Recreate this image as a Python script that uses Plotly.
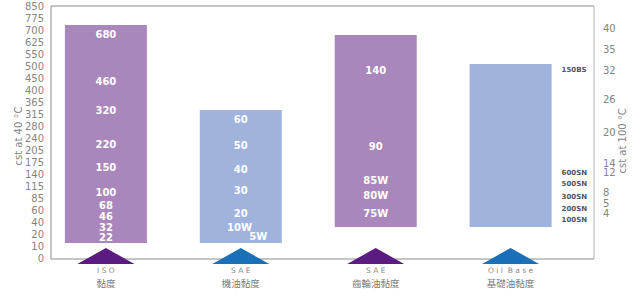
import numpy as np
import plotly.graph_objects as go

# ---------------- data ----------------
# Left axis: cSt at 40 °C (bottom -> top, evenly spaced ticks)
cst40_ticks = [0, 10, 20, 40, 60, 85, 115, 140, 175, 205, 240, 280, 315,
               365, 400, 450, 500, 550, 625, 700, 775, 850]
# Right axis: cSt at 100 °C and the equivalent cSt at 40 °C level
cst100_ticks = [40, 35, 32, 26, 20, 14, 12, 8, 5, 4]
cst100_at40 = [712, 581, 483, 371, 260, 172, 143, 100, 74, 55]

categories = ["ISO", "SAE", "SAE", "Oil Base"]
categories_zh = ["黏度", "機油黏度", "齒輪油黏度", "基礎油黏度"]
bar_low = [12.5, 12.5, 31.7, 31.7]
bar_high = [731, 332, 668, 508]

iso_labels = ["680", "460", "320", "220", "150", "100", "68", "46", "32", "22"]
iso_pos = [668, 433, 327, 217, 157, 97, 68, 47, 30, 16]
sae_engine_labels = ["60", "50", "40", "30", "20", "10W", "5W"]
sae_engine_pos = [297, 214, 149, 102, 53, 30, 17.5]
sae_gear_labels = ["140", "90", "85W", "80W", "75W"]
sae_gear_pos = [479, 211, 125, 90, 53]
base_oil_labels = ["150BS", "600SN", "500SN", "300SN", "200SN", "100SN"]
base_oil_pos = [483, 143, 119, 87.5, 62, 43]

# ---------------- styling ----------------
bar_colors = ["#A987BC", "#A0B3DD", "#A987BC", "#A0B3DD"]
tri_colors = ["#5C1B80", "#1A70B8", "#5C1B80", "#1A70B8"]
W, H = 640, 296
ML, MR = 51, 46
PX = 12.0        # pixels per tick step
ZERO_PX = 258.0  # pixel row of the 0 tick
CAT_PX0, CAT_STEP = 105.9, 134.9
BAR_W = 82 / CAT_STEP
TRI_HALF = 28.5 / CAT_STEP

idx = np.arange(len(cst40_ticks))


def ax(v):
    return np.interp(v, cst40_ticks, idx)


def py(p):  # pixel row -> axis units (layout helper)
    return (ZERO_PX - p) / PX


cat_x = np.arange(len(categories), dtype=float)
xr = [(ML - CAT_PX0) / CAT_STEP, (W - MR - CAT_PX0) / CAT_STEP]
yr = [py(H), py(0)]

fig = go.Figure()

low = ax(bar_low)
high = ax(bar_high)
fig.add_trace(go.Bar(x=cat_x, y=high - low, base=low, width=BAR_W,
                     marker=dict(color=bar_colors, line=dict(width=0)),
                     hoverinfo="skip"))

# triangles
for cx, col in zip(cat_x, tri_colors):
    fig.add_trace(go.Scatter(x=[cx - TRI_HALF, cx, cx + TRI_HALF, cx - TRI_HALF],
                             y=[py(264), py(248), py(264), py(264)],
                             mode="lines", fill="toself", fillcolor=col,
                             line=dict(width=0, color=col), hoverinfo="skip"))

bold_white = dict(family="DejaVu Sans", size=10, color="white")


def add_text(xs, ys, labels, font, pos="middle center", yaxis="y"):
    fig.add_trace(go.Scatter(x=xs, y=ys, text=labels, mode="text",
                             textposition=pos, textfont=font,
                             cliponaxis=False, hoverinfo="skip", yaxis=yaxis))


add_text([cat_x[0]] * len(iso_labels), ax(iso_pos),
         ["<b>%s</b>" % t for t in iso_labels], bold_white)
sae_dx = [0, 0, 0, 0, 0, -0.01, 0.13]
add_text([cat_x[1] + d for d in sae_dx], ax(sae_engine_pos),
         ["<b>%s</b>" % t for t in sae_engine_labels], bold_white)
add_text([cat_x[2]] * len(sae_gear_labels), ax(sae_gear_pos),
         ["<b>%s</b>" % t for t in sae_gear_labels], bold_white)
add_text([cat_x[3] + BAR_W / 2 + 10 / CAT_STEP] * len(base_oil_labels),
         ax(base_oil_pos), ["<b>%s</b>" % t for t in base_oil_labels],
         dict(family="DejaVu Sans", size=7, color="#555555"),
         pos="middle right", yaxis="y2")

# category captions
spaced = [" ".join(list(c)).replace("   ", "  ") for c in categories]
add_text(cat_x, [py(271.5)] * 4, spaced,
         dict(family="DejaVu Sans", size=7.5, color="#8a8a8a"))
add_text(cat_x, [py(284.5)] * 4, categories_zh,
         dict(family="Noto Sans CJK TC", size=9.5, color="#7a7a7a"))

tickfont = dict(family="DejaVu Sans", size=10, color="#858585")
fig.update_layout(
    width=W, height=H, margin=dict(l=ML, r=MR, t=0, b=0),
    plot_bgcolor="white", paper_bgcolor="white", showlegend=False,
    xaxis=dict(range=xr, visible=False, fixedrange=True),
    yaxis=dict(range=yr, tickvals=idx, ticktext=[str(v) for v in cst40_ticks],
               showgrid=False, zeroline=False, showline=False,
               ticks="outside", ticklen=4, tickcolor="rgba(0,0,0,0)",
               tickfont=tickfont),
    yaxis2=dict(range=yr, overlaying="y", side="right",
                tickvals=ax(cst100_at40), ticktext=[str(v) for v in cst100_ticks],
                showgrid=False, zeroline=False, showline=False,
                ticks="outside", ticklen=6, tickcolor="rgba(0,0,0,0)",
                tickfont=tickfont),
    shapes=[
        dict(type="line", xref="paper", yref="y", x0=0, x1=0, y0=py(259), y1=py(6),
             line=dict(color="#8c8c8c", width=1), layer="below"),
        dict(type="line", xref="paper", yref="y", x0=0, x1=1, y0=py(6), y1=py(6),
             line=dict(color="#8c8c8c", width=1), layer="below"),
        dict(type="line", xref="paper", yref="y", x0=1, x1=1, y0=py(259), y1=py(6),
             line=dict(color="#b0b0b0", width=1), layer="below"),
        dict(type="line", xref="paper", yref="y", x0=0, x1=1, y0=py(259), y1=py(259),
             line=dict(color="#8c8c8c", width=1), layer="below"),
    ],
    annotations=[
        dict(text="cst at 40 °C", xref="paper", yref="y", x=0, y=py(136),
             xshift=-(ML - 10), textangle=-90, showarrow=False,
             font=dict(family="DejaVu Sans", size=10, color="#858585")),
        dict(text="cst at 100 °C", xref="paper", yref="y", x=1, y=py(141),
             xshift=629 - (W - MR), textangle=-90, showarrow=False,
             font=dict(family="DejaVu Sans", size=10, color="#858585")),
    ],
)

fig.write_html("out.html")
